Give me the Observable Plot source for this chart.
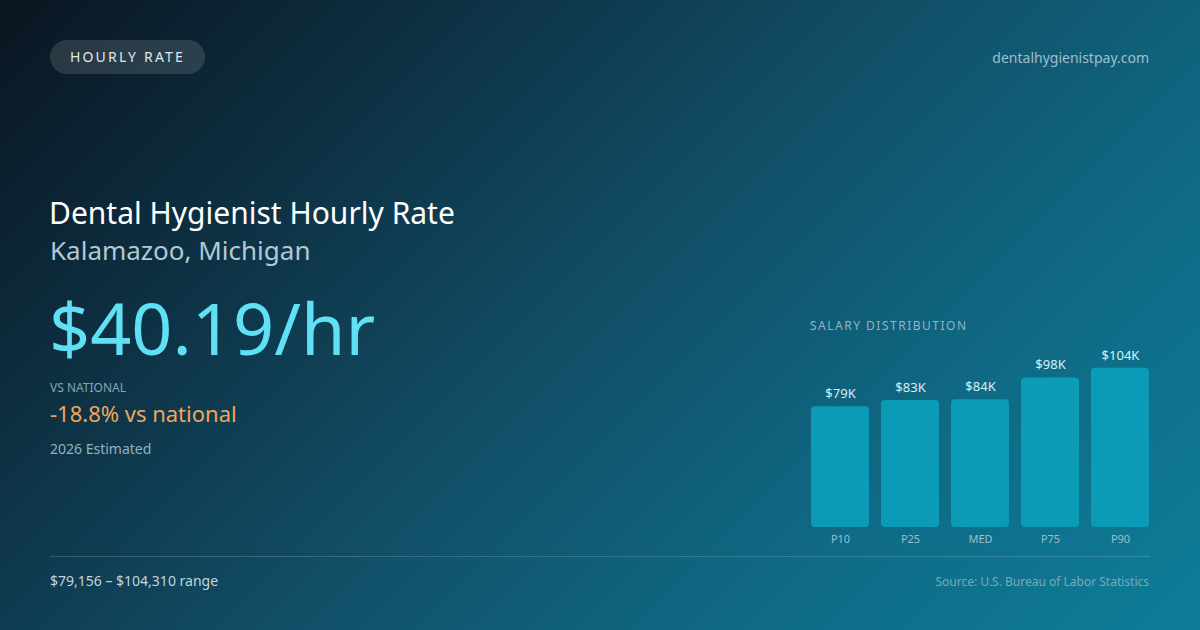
<!DOCTYPE html>
<html>
<head>
<meta charset="utf-8">
<script src="https://cdn.jsdelivr.net/npm/d3@7"></script>
<script src="https://cdn.jsdelivr.net/npm/@observablehq/plot@0.6"></script>
<style>
  html, body { margin: 0; padding: 0; }
  body {
    width: 1200px; height: 630px; overflow: hidden; position: relative;
    font-family: "Noto Sans", "Open Sans", sans-serif;
    background: linear-gradient(135deg, #0a1520 0%, #0e3447 28%, #114f67 50%, #0f6a85 75%, #0e7d99 100%);
  }
  .abs { position: absolute; white-space: nowrap; }
  #badge {
    left: 50px; top: 40px; width: 155px; height: 34px; border-radius: 17px;
    background: rgba(255,255,255,0.13); color: #dfe8ee; font-size: 14px;
    letter-spacing: 2.2px; line-height: 34px; text-align: center;
  }
  #site { right: 51px; top: 48px; font-size: 14px; color: #9fbfcc; }
  #title { left: 49px; top: 192px; font-size: 30px; color: #ffffff; }
  #sub { left: 50px; top: 232px; font-size: 26px; color: #b2c9d3; }
  #big { left: 49px; top: 284px; font-size: 72px; color: #5fe0f4; line-height: 1.2; }
  #vsl { left: 50px; top: 379px; font-size: 12px; color: #86a6b4; }
  #vs { left: 50px; top: 398px; font-size: 22px; color: #f0a55a; }
  #est { left: 50px; top: 439px; font-size: 14px; color: #93b1be; }
  #dist { left: 810px; top: 317px; font-size: 12px; color: #93b4c2; letter-spacing: 1.5px; }
  #rule { left: 50px; top: 556px; width: 1100px; height: 1px; background: rgba(255,255,255,0.16); }
  #range { left: 50px; top: 571px; font-size: 14px; color: #c3d5dd; }
  #src { right: 51px; top: 573px; font-size: 12px; color: #7fa6b6; }
  #chart { left: 800px; top: 336px; }
</style>
</head>
<body>
<div class="abs" id="badge">HOURLY RATE</div>
<div class="abs" id="site">dentalhygienistpay.com</div>
<div class="abs" id="title">Dental Hygienist Hourly Rate</div>
<div class="abs" id="sub">Kalamazoo, Michigan</div>
<div class="abs" id="big">$40.19/hr</div>
<div class="abs" id="vsl">VS NATIONAL</div>
<div class="abs" id="vs">-18.8% vs national</div>
<div class="abs" id="est">2026 Estimated</div>
<div class="abs" id="dist">SALARY DISTRIBUTION</div>
<div class="abs" id="chart"></div>
<div class="abs" id="rule"></div>
<div class="abs" id="range">$79,156 – $104,310 range</div>
<div class="abs" id="src">Source: U.S. Bureau of Labor Statistics</div>
<script>
const percentiles = ["P10", "P25", "MED", "P75", "P90"];
const salaries = [79156, 83200, 83595, 98000, 104310];
const valueLabels = ["$79K", "$83K", "$84K", "$98K", "$104K"];

const rows = percentiles.map((p, i) => ({p, v: salaries[i], label: valueLabels[i]}));

const chart = Plot.plot({
  width: 360,
  height: 220,
  marginLeft: 10,
  marginRight: 10,
  marginTop: 20,
  marginBottom: 29,
  style: {background: "transparent", fontFamily: "Noto Sans, Open Sans, sans-serif"},
  x: {domain: percentiles, paddingInner: 0.17, paddingOuter: 0},
  y: {domain: [0, 112000], axis: null},
  marks: [
    Plot.barY(rows, {x: "p", y: "v", fill: "#0c9bb6", rx: 4}),
    Plot.text(rows, {x: "p", y: "v", text: "label", dy: -8.5, lineAnchor: "bottom", fill: "#dbeef4", fontSize: 13}),
    Plot.axisX({tickSize: 0, tickPadding: 8, fontSize: 11, color: "#9cbfcc", label: null})
  ]
});
document.getElementById("chart").appendChild(chart);
</script>
</body>
</html>
